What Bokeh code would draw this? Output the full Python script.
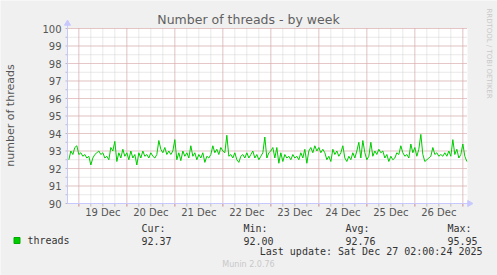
import math
from datetime import datetime, timedelta
from bokeh.plotting import figure
from bokeh.models import Range1d
from bokeh.core.properties import value
from bokeh.embed import file_html
from bokeh.resources import INLINE

# ---------------- data ----------------
start_time = datetime(2025, 12, 18, 19, 0)
threads = [
    92.5, 93.0, 92.8, 93.2, 93.3, 92.8, 92.9, 92.7, 92.8, 92.6, 92.7, 92.2, 92.6,
    92.8, 92.9, 93.0, 92.8, 92.9, 92.6, 92.7, 92.5, 93.2, 93.0, 93.55, 92.4, 92.9,
    92.6, 93.1, 92.7, 92.9, 92.5, 93.0, 92.6, 92.8, 92.2, 92.9, 92.6, 93.0, 92.7,
    92.8, 92.6, 92.9, 92.7, 92.6, 92.8, 93.6, 93.1, 92.9, 93.2, 92.8, 93.0,
    92.8, 93.0, 93.65, 92.5, 92.9, 92.45, 93.0, 92.7, 92.9, 92.6, 93.3, 92.7, 92.9,
    92.5, 92.8, 92.6, 92.9, 92.35, 92.7, 92.6, 92.8, 93.3, 92.9, 93.1, 92.8, 93.2,
    93.0, 92.9, 93.9, 92.7, 92.8, 92.6, 92.9, 92.5, 92.35, 92.7, 92.8, 92.6, 92.9,
    92.6, 92.8, 93.0, 92.6, 92.8, 92.5, 92.7, 92.9, 93.8, 92.6, 92.9, 93.0,
    93.2, 92.6, 93.2, 92.3, 92.9, 92.4, 92.8, 92.6, 92.7, 92.5, 92.8, 92.6, 92.7,
    92.5, 92.9, 92.6, 93.1, 92.3, 93.0, 93.2, 92.9, 93.3, 93.0, 93.2, 92.9, 93.1,
    92.9, 92.5, 92.7, 92.4, 93.1, 92.8, 93.0, 92.7, 92.9, 93.3, 92.6, 92.4, 92.7,
    92.5, 92.9, 92.6, 93.0, 93.5, 92.6, 93.6, 92.9, 92.5, 92.7, 93.5, 92.7,
    93.0, 92.8, 93.1, 92.9, 93.0, 92.6, 92.8, 92.4, 92.7, 92.5, 92.6, 92.9, 92.8,
    93.3, 92.9, 92.7, 92.8, 92.6, 93.4, 92.9, 93.2, 92.7, 93.1, 93.95, 92.8, 92.4,
    92.5, 92.6, 92.7, 93.2, 92.8, 92.9, 92.7, 92.8, 92.7, 92.9, 92.7, 93.0, 92.7,
    93.65, 92.8, 93.1, 92.6, 92.8, 93.4, 92.7, 92.4,
]
times = [start_time + timedelta(hours=i) for i in range(len(threads))]

day_labels = ["19 Dec", "20 Dec", "21 Dec", "22 Dec", "23 Dec", "24 Dec", "25 Dec", "26 Dec"]
y_ticks = [90, 91, 92, 93, 94, 95, 96, 97, 98, 99, 100]
legend_name = "threads"
stat_names = ["Cur:", "Min:", "Avg:", "Max:"]
stat_values = ["92.37", "92.00", "92.76", "95.95"]
title_text = "Number of threads - by week"
y_label = "number of threads"
update_text = "Last update: Sat Dec 27 02:00:24 2025"
footer_text = "Munin 2.0.76"
side_text = "RRDTOOL / TOBI OETIKER"

# ---------------- layout helpers ----------------
EPOCH = datetime(1970, 1, 1)
def ms(dt):
    return (dt - EPOCH).total_seconds() * 1000.0

x_start = datetime(2025, 12, 18, 18, 20)
x_end = datetime(2025, 12, 27, 2, 20)
Y0, Y1 = 90, 100
W, H = 497, 275
FL, FR, FT, FB = 67, 467, 28, 203   # plot area box in page pixels

def px2x(px):
    return ms(x_start) + (px - FL) / (FR - FL) * (ms(x_end) - ms(x_start))
def py2y(py):
    return Y0 + (FB - py) / (FB - FT) * (Y1 - Y0)
def dx(n):   # n pixels in x data units
    return px2x(n) - px2x(0)
def dy(n):
    return py2y(0) - py2y(n)

six_hours = [ms(datetime(2025, 12, 18, 18) + timedelta(hours=6 * i)) for i in range(34)]
six_hours = [t for t in six_hours if ms(x_start) < t < ms(x_end)]
midnights = [ms(datetime(2025, 12, 19) + timedelta(days=i)) for i in range(9)]
noons = [ms(datetime(2025, 12, 19, 12) + timedelta(days=i)) for i in range(len(day_labels))]
half_ticks = [90 + 0.5 * i for i in range(21)]

BG = "#F0F0F0"
TXT = "#555555"
DARK = "#333333"
AXC = "#C8C8FF"
MAJ = "#E2A4A4"
MIN = "#D2D2D2"
FAINT = "#C8C8C8"

p = figure(width=W, height=H, x_axis_type="datetime",
           x_range=Range1d(px2x(0), px2x(W)), y_range=Range1d(py2y(H), py2y(0)),
           output_backend="svg", toolbar_location=None,
           x_axis_location=None, y_axis_location=None,
           min_border=0, frame_width=W, frame_height=H)
p.background_fill_color = BG
p.border_fill_color = BG
p.outline_line_color = None
p.xgrid.visible = False
p.ygrid.visible = False

xs0, xs1 = ms(x_start), ms(x_end)

# white plot area
p.quad(left=[xs0], right=[xs1], bottom=[Y0], top=[Y1], fill_color="white", line_color=None)

# minor grid (every 0.5 and every 6 hours)
p.segment(x0=[xs0] * len(half_ticks), x1=[xs1] * len(half_ticks), y0=half_ticks, y1=half_ticks,
          line_color=MIN, line_dash="1 1", line_width=1)
p.segment(x0=six_hours, x1=six_hours, y0=[Y0] * len(six_hours), y1=[Y1] * len(six_hours),
          line_color=MIN, line_dash="1 1", line_width=1)
# major grid (integers, midnights)
p.segment(x0=[xs0] * len(y_ticks), x1=[xs1] * len(y_ticks), y0=y_ticks, y1=y_ticks,
          line_color=MAJ, line_dash="1 1", line_width=1)
p.segment(x0=midnights, x1=midnights, y0=[Y0] * len(midnights), y1=[Y1] * len(midnights),
          line_color=MAJ, line_dash="1 1", line_width=1)

# tick marks outside the plot area
p.segment(x0=[xs0 - dx(2)] * len(half_ticks), x1=[xs0] * len(half_ticks), y0=half_ticks, y1=half_ticks,
          line_color="#BBBBBB")
p.segment(x0=six_hours, x1=six_hours, y0=[Y0 - dy(3)] * len(six_hours), y1=[Y0] * len(six_hours),
          line_color="#BBBBBB")
p.segment(x0=midnights, x1=midnights, y0=[Y0 - dy(3)] * len(midnights), y1=[Y0] * len(midnights),
          line_color=MAJ)

# axis lines with arrow heads
p.segment(x0=[xs0, xs0], x1=[xs0, px2x(470)], y0=[Y0, Y0], y1=[py2y(24), Y0],
          line_color=AXC, line_width=1)
p.scatter(x=[xs0], y=[py2y(23)], marker="triangle", size=6, fill_color=AXC, line_color=AXC)
p.scatter(x=[px2x(469)], y=[Y0], marker="triangle", size=6, angle=-math.pi / 2,
          fill_color=AXC, line_color=AXC)

# data line
p.line(times, threads, line_color="#00CC00", line_width=1)

# tick labels
p.text(x=[xs0 - dx(6)] * len(y_ticks), y=y_ticks, text=[str(t) for t in y_ticks],
       text_font=value("DejaVu Sans"), text_font_size="10px", text_color=TXT,
       text_align="right", text_baseline="middle")
p.text(x=noons, y=[py2y(212)] * len(noons), text=day_labels,
       text_font=value("DejaVu Sans"), text_font_size="10px", text_color=TXT,
       text_align="center", text_baseline="middle")

def txt(px, py, s, size, color=TXT, font="DejaVu Sans", align="left", angle=0.0):
    p.text(x=[px2x(px)], y=[py2y(py)], text=[s], text_font=value(font),
           text_font_size=size, text_color=color, text_align=align,
           text_baseline="middle", angle=angle)

txt(248, 19, title_text, "12.5px", color="#606060", align="center")
txt(10, 115, y_label, "11px", color=TXT, align="center", angle=math.pi / 2)
txt(488, 53, side_text, "7px", color=FAINT, align="center", angle=-math.pi / 2)

# legend
p.scatter(x=[px2x(16.5)], y=[py2y(240)], marker="square", size=6,
          fill_color="#00CC00", line_color="#00AA00")
txt(27, 240, legend_name, "10px", color=DARK, font="DejaVu Sans Mono")
stat_x = [141, 243, 345, 447]
for sx, nm, vl in zip(stat_x, stat_names, stat_values):
    txt(sx, 228, nm, "10px", color=DARK, font="DejaVu Sans Mono")
    txt(sx, 240, vl, "10px", color=DARK, font="DejaVu Sans Mono")
txt(482, 251, update_text, "10px", color=DARK, font="DejaVu Sans Mono", align="right")
txt(248, 264, footer_text, "8px", color=FAINT, align="center")

open("out.html", "w").write(file_html(p, INLINE))
